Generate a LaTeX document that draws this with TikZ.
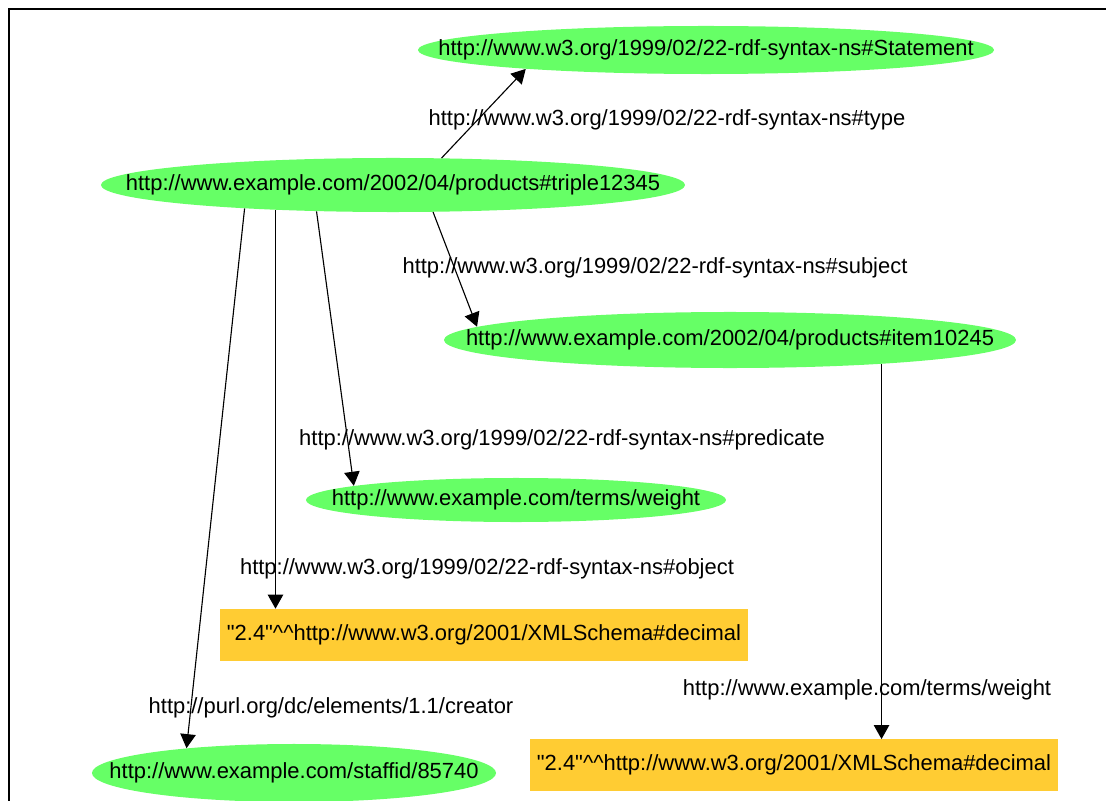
\documentclass[tikz,border=0pt]{standalone}
\usepackage{fontspec}
\setmainfont{Liberation Sans}
\usepackage{tikz}
\usetikzlibrary{shapes.geometric,arrows.meta,calc}
\tikzset{>={Triangle[length=10pt,width=11pt]}}
\definecolor{resgreen}{RGB}{102,255,102}
\definecolor{litorange}{RGB}{255,204,51}
\newcommand{\uri}[1]{\makebox[0pt]{#1}}
\newcommand{\litval}{\textquotedbl 2.4\textquotedbl\^{}\^{}http://www.w3.org/2001/XMLSchema\#decimal}
\tikzset{
  res/.style={ellipse,fill=resgreen,inner sep=0pt,font=\fontsize{15.6}{18}\selectfont},
  lit/.style={rectangle,fill=litorange,inner sep=0pt,font=\fontsize{15.6}{18}\selectfont},
  elabel/.style={inner sep=0pt,font=\fontsize{15.6}{18}\selectfont},
  edge/.style={->,line width=0.8pt}
}

\begin{document}
\begin{tikzpicture}[x=0.025cm,y=-0.025cm]
    \useasboundingbox (0,0) rectangle (1106,801);
    \draw[line width=1.5pt] (9,801)--(9,9)--(1106,9);

      % resources
      \node[res,minimum width=14.4cm,minimum height=1.2cm] (stmt) at (706,50) {\uri{http://www.w3.org/1999/02/22-rdf-syntax-ns\#Statement}};
      \node[res,minimum width=14.6cm,minimum height=1.35cm] (triple) at (393,185) {\uri{http://www.example.com/2002/04/products\#triple12345}};
      \node[res,minimum width=14.3cm,minimum height=1.4cm] (item) at (730,340) {\uri{http://www.example.com/2002/04/products\#item10245}};
      \node[res,minimum width=10.5cm,minimum height=1.1cm] (weight) at (516,500) {\uri{http://www.example.com/terms/weight}};
      \node[res,minimum width=10.1cm,minimum height=1.45cm] (staff) at (294,773) {\uri{http://www.example.com/staffid/85740}};

      % literals
      \node[lit,minimum width=13.2cm,minimum height=1.3cm] (lita) at (484,635) {\litval};
      \node[lit,minimum width=13.2cm,minimum height=1.28cm] (litb) at (794,765) {\litval};

      % edge labels
      \node[elabel] (ltype) at (667,120) {http://www.w3.org/1999/02/22-rdf-syntax-ns\#type};
      \node[elabel] (lsubj) at (655,268) {http://www.w3.org/1999/02/22-rdf-syntax-ns\#subject};
      \node[elabel] (lpred) at (562,440) {http://www.w3.org/1999/02/22-rdf-syntax-ns\#predicate};
      \node[elabel] (lobj) at (487,569) {http://www.w3.org/1999/02/22-rdf-syntax-ns\#object};
      \node[elabel] (lcreat) at (331,708) {http://purl.org/dc/elements/1.1/creator};
      \node[elabel] (lweight) at (867,690) {http://www.example.com/terms/weight};

    \draw[edge] (triple.29.5)--(stmt.-174.9);
    \draw[edge] (triple.-34.5)--(item.177.1);
    \draw[edge] (triple.-161.8)--(weight.175.4);
    \draw[edge] (triple.-168.1)--(triple.-168.1 |- lita.north);
    \draw[edge] (triple.-171.1)--(staff.167.3);
    \draw[edge] (item.-9.2)--(item.-9.2 |- litb.north);

    \end{tikzpicture}
\end{document}
